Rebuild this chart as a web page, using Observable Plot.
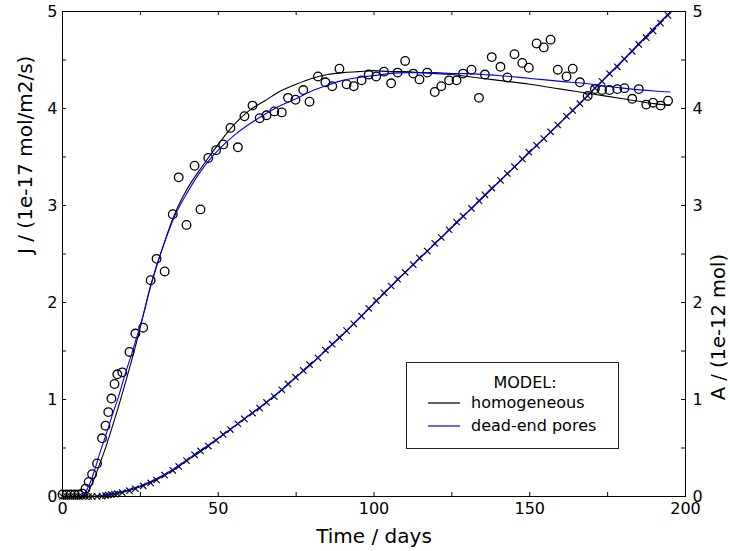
<!DOCTYPE html>
<html>
<head>
<meta charset="utf-8">
<script src="https://cdn.jsdelivr.net/npm/d3@7"></script>
<script src="https://cdn.jsdelivr.net/npm/@observablehq/plot@0.6"></script>
<style>
  html, body { margin: 0; padding: 0; background: #fff; }
  #wrap { position: relative; width: 730px; height: 551px; font-family: "DejaVu Sans", sans-serif; }
  #legend { position: absolute; left: 0; top: 0; pointer-events: none; }
</style>
</head>
<body>
<div id="wrap"></div>
<script>
// ---- Observed flux J (circles): [day, J]
const jObserved = [
  [0,0.02],[1.3,0.02],[2.6,0.02],[3.9,0.02],[5.2,0.02],[6.4,0.03],[7.4,0.08],[8.4,0.15],[9.5,0.23],
  [11.1,0.34],[12.7,0.60],[13.8,0.73],[14.7,0.87],[15.7,1.01],[16.7,1.16],[17.6,1.26],[19.2,1.28],
  [21.5,1.49],[23.4,1.68],[25.9,1.74],[28.3,2.23],[30.2,2.45],[32.8,2.32],[35.4,2.91],[37.3,3.29],
  [39.8,2.80],[42.4,3.41],[44.3,2.96],[46.8,3.49],[49.3,3.57],[51.6,3.63],[53.9,3.80],[56.3,3.60],
  [58.4,3.92],[61.0,4.03],[63.3,3.90],[65.5,3.93],[68.0,3.97],[70.4,3.96],[72.4,4.11],[74.8,4.09],
  [77.3,4.19],[79.3,4.07],[82.0,4.33],[84.4,4.27],[86.6,4.23],[88.9,4.41],[91.2,4.25],[93.5,4.23],
  [96.0,4.29],[98.3,4.35],[100.7,4.33],[103.2,4.38],[105.5,4.26],[107.6,4.37],[110.0,4.49],[112.6,4.36],
  [114.6,4.30],[117.1,4.37],[119.5,4.17],[121.6,4.23],[124.1,4.29],[126.5,4.29],[128.6,4.36],[131.3,4.40],
  [133.7,4.11],[135.6,4.35],[137.8,4.53],[140.6,4.43],[142.8,4.32],[145.1,4.56],[147.6,4.47],[149.7,4.42],
  [152.2,4.67],[154.5,4.63],[156.7,4.71],[159.0,4.40],[161.8,4.33],[163.8,4.41],[166.1,4.27],[168.6,4.13],
  [170.9,4.20],[173.2,4.19],[175.6,4.19],[178.1,4.20],[180.4,4.21],[182.9,4.10],[185.0,4.20],[187.4,4.04],
  [189.6,4.06],[192.0,4.03],[194.4,4.08]
];

// ---- Observed cumulative amount A (crosses): [day, A]
const aObserved = [
  [0,0],[1.3,0],[2.6,0],[3.9,0],[5.2,0],[6.4,0],[7.4,0],[8.4,0],[9.5,0],
  [11.1,0],[12.7,0.005],[13.8,0.01],[14.7,0.015],[15.7,0.02],[16.7,0.025],[17.6,0.03],[19.2,0.04],
  [21.5,0.06],[23.4,0.08],[25.9,0.11],[28.3,0.14],[30.2,0.17],[32.8,0.22],[35.4,0.27],[37.3,0.31],
  [39.8,0.37],[42.4,0.43],[44.3,0.47],[46.8,0.52],[49.3,0.58],[51.6,0.64],[53.9,0.69],[56.3,0.75],
  [58.4,0.80],[61.0,0.86],[63.3,0.91],[65.5,0.97],[68.0,1.03],[70.4,1.10],[72.4,1.16],[74.8,1.23],
  [77.3,1.30],[79.3,1.36],[82.0,1.43],[84.4,1.51],[86.6,1.57],[88.9,1.64],[91.2,1.71],[93.5,1.78],
  [96.0,1.86],[98.3,1.94],[100.7,2.02],[103.2,2.10],[105.5,2.17],[107.6,2.24],[110.0,2.31],[112.6,2.39],
  [114.6,2.46],[117.1,2.53],[119.5,2.61],[121.6,2.67],[124.1,2.75],[126.5,2.83],[128.6,2.89],[131.3,2.97],
  [133.7,3.05],[135.6,3.11],[137.8,3.18],[140.6,3.26],[142.8,3.33],[145.1,3.40],[147.6,3.48],[149.7,3.55],
  [152.2,3.62],[154.5,3.69],[156.7,3.76],[159.0,3.83],[161.8,3.92],[163.8,3.98],[166.1,4.05],[168.6,4.13],
  [170.9,4.21],[173.2,4.28],[175.6,4.36],[178.1,4.43],[180.4,4.51],[182.9,4.59],[185.0,4.66],[187.4,4.73],
  [189.6,4.80],[192.0,4.88],[194.4,4.96]
];

// ---- Model curves for J
const jModelDay = [0,6,7,8,10,12,14,16,18,20,22,24,26,28,30,32,34,36,40,45,50,55,60,65,70,75,80,85,90,95,100,105,110,115,120,125,130,135,140,150,160,170,180,190,195];
const jHomogeneous = [0,0,0,0.04,0.17,0.34,0.52,0.72,0.93,1.15,1.38,1.62,1.88,2.14,2.36,2.55,2.74,2.91,3.17,3.41,3.63,3.83,3.98,4.08,4.18,4.25,4.31,4.35,4.37,4.38,4.39,4.38,4.38,4.37,4.36,4.35,4.33,4.31,4.29,4.25,4.20,4.15,4.10,4.05,4.03];
const jDeadEnd = [0,0,0.03,0.08,0.24,0.45,0.64,0.84,1.03,1.25,1.45,1.66,1.88,2.13,2.35,2.55,2.73,2.89,3.13,3.38,3.57,3.72,3.84,3.94,4.03,4.10,4.18,4.24,4.29,4.32,4.34,4.36,4.37,4.37,4.37,4.36,4.36,4.35,4.34,4.31,4.28,4.25,4.21,4.18,4.17];

// ---- Model curves for A
const aModelDay = [0,10,15,20,25,30,35,40,45,50,55,60,65,70,75,80,85,90,95,100,110,120,130,140,150,160,170,180,190,195];
const aHomogeneous = [0,0,0.02,0.05,0.10,0.17,0.26,0.37,0.48,0.60,0.72,0.84,0.96,1.09,1.23,1.37,1.52,1.67,1.83,1.99,2.31,2.62,2.93,3.24,3.55,3.86,4.18,4.50,4.83,4.99];
const aDeadEnd = [0,0,0.02,0.06,0.11,0.18,0.27,0.38,0.49,0.60,0.72,0.84,0.96,1.09,1.23,1.37,1.52,1.67,1.83,1.99,2.31,2.62,2.93,3.24,3.55,3.86,4.18,4.50,4.83,4.99];

// ---- Ticks and labels
const xTickMarks = [0,25,50,75,100,125,150,175,200];
const xTickLabels = [0,50,100,150,200];
const yTickMarks = [0,0.5,1,1.5,2,2.5,3,3.5,4,4.5,5];
const yTickLabels = [0,1,2,3,4,5];
const xTitle = "Time / days";
const yLeftTitle = "J / (1e-17 mol/m2/s)";
const yRightTitle = "A / (1e-12 mol)";
const legendTitle = "MODEL:";
const seriesNames = ["homogeneous", "dead-end pores"];
const seriesColors = ["#000000", "#0000ff"];

const zip = (xs, ys) => xs.map((x, i) => ({day: x, v: ys[i]}));
const jObs = jObserved.map(([d, v]) => ({day: d, v}));
const aObs = aObserved.map(([d, v]) => ({day: d, v}));

const W = 730, H = 551, mL = 62, mR = 45, mT = 11, mB = 55;
const fw = W - mL - mR, fh = H - mT - mB, tk = 4;
const fmt = d => String(d);

const chart = Plot.plot({
  width: W, height: H,
  marginLeft: mL, marginRight: mR, marginTop: mT, marginBottom: mB,
  style: {fontFamily: "DejaVu Sans", fontSize: "16px", background: "white", color: "black"},
  x: {domain: [0, 200]},
  y: {domain: [0, 5]},
  marks: [
    // A: cumulative
    Plot.dot(aObs, {x: "day", y: "v", symbol: "times", r: 3, stroke: "#111", strokeWidth: 1.2}),
    Plot.line(zip(aModelDay, aHomogeneous), {x: "day", y: "v", stroke: seriesColors[0], strokeWidth: 1.1, curve: "monotone-x"}),
    Plot.line(zip(aModelDay, aDeadEnd), {x: "day", y: "v", stroke: seriesColors[1], strokeWidth: 1.1, curve: "monotone-x"}),
    // J: flux
    Plot.dot(jObs, {x: "day", y: "v", r: 4.3, stroke: "black", fill: "none", strokeWidth: 1.3}),
    Plot.line(zip(jModelDay, jHomogeneous), {x: "day", y: "v", stroke: seriesColors[0], strokeWidth: 1.1, curve: "monotone-x"}),
    Plot.line(zip(jModelDay, jDeadEnd), {x: "day", y: "v", stroke: seriesColors[1], strokeWidth: 1.1, curve: "monotone-x"}),
    // inward ticks
    Plot.tickX(xTickMarks, {x: d => d, insetTop: fh - tk, stroke: "black"}),
    Plot.tickX(xTickMarks, {x: d => d, insetBottom: fh - tk, stroke: "black"}),
    Plot.tickY(yTickMarks, {y: d => d, insetRight: fw - tk, stroke: "black"}),
    Plot.tickY(yTickMarks, {y: d => d, insetLeft: fw - tk, stroke: "black"}),
    // tick labels
    Plot.axisX(xTickLabels, {tickSize: 0, tickPadding: 6, fontSize: 16, label: null, tickFormat: fmt}),
    Plot.axisY(yTickLabels, {anchor: "left", tickSize: 0, tickPadding: 5, fontSize: 16, label: null, tickFormat: fmt}),
    Plot.axisY(yTickLabels, {anchor: "right", tickSize: 0, tickPadding: 7, fontSize: 16, label: null, tickFormat: fmt}),
    // axis titles
    Plot.text([xTitle], {text: d => d, frameAnchor: "bottom", dy: 40, fontSize: 20, lineAnchor: "middle"}),
    Plot.text([yLeftTitle], {text: d => d, frameAnchor: "left", dx: -37, rotate: -90, fontSize: 20, lineAnchor: "middle"}),
    Plot.text([yRightTitle], {text: d => d, frameAnchor: "right", dx: 33, rotate: -90, fontSize: 19.5, lineAnchor: "middle"}),
    Plot.frame({stroke: "black", strokeWidth: 1})
  ]
});

const wrap = document.getElementById("wrap");
wrap.appendChild(chart);

// legend overlay
const lg = d3.select(wrap).append("svg").attr("id", "legend").attr("width", W).attr("height", H)
  .style("font-family", "DejaVu Sans").style("font-size", "16px");
lg.append("rect").attr("x", 406.5).attr("y", 362.5).attr("width", 212).attr("height", 86)
  .attr("fill", "white").attr("stroke", "#222").attr("stroke-width", 1);
lg.append("text").attr("x", 525).attr("y", 382).attr("text-anchor", "middle").attr("dominant-baseline", "central").text(legendTitle);
seriesNames.forEach((name, i) => {
  const y = 403 + i * 23;
  lg.append("line").attr("x1", 428).attr("x2", 460).attr("y1", y).attr("y2", y)
    .attr("stroke", seriesColors[i]).attr("stroke-width", 1.2);
  lg.append("text").attr("x", 471).attr("y", y - 1).attr("dominant-baseline", "central").text(name);
});
</script>
</body>
</html>
